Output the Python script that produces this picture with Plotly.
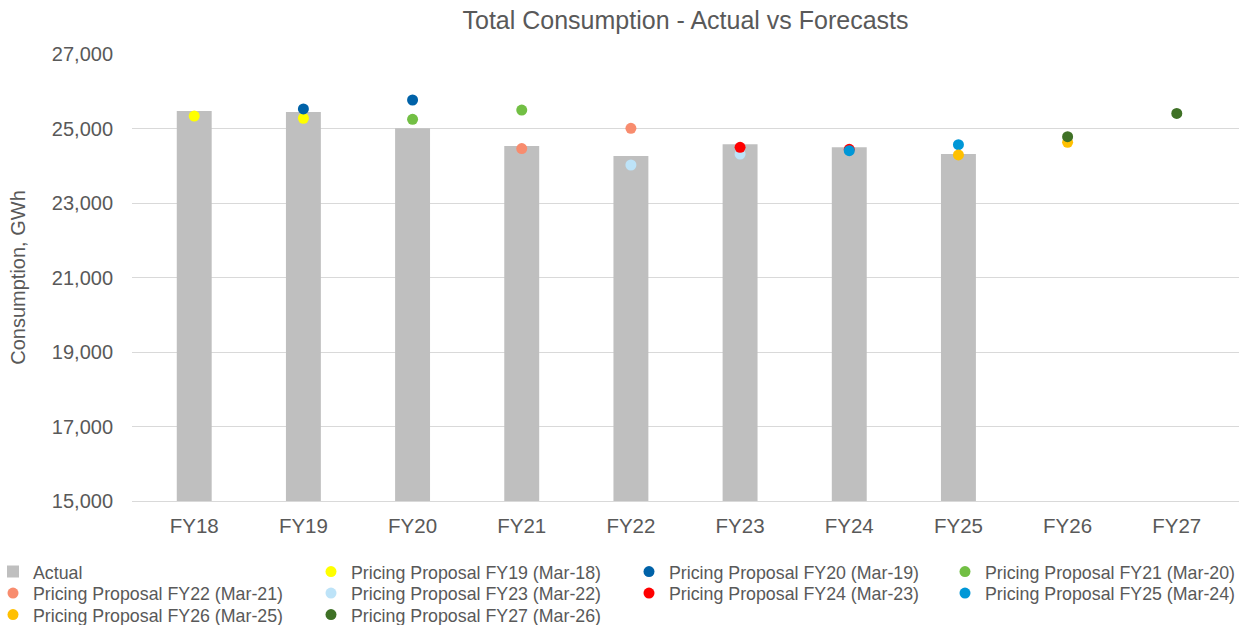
import plotly.graph_objects as go

categories = ["FY18", "FY19", "FY20", "FY21", "FY22", "FY23", "FY24", "FY25", "FY26", "FY27"]
actual = [25470, 25440, 25010, 24530, 24265, 24575, 24495, 24315, None, None]

proposal_names = [
    "Pricing Proposal FY19 (Mar-18)",
    "Pricing Proposal FY20 (Mar-19)",
    "Pricing Proposal FY21 (Mar-20)",
    "Pricing Proposal FY22 (Mar-21)",
    "Pricing Proposal FY23 (Mar-22)",
    "Pricing Proposal FY24 (Mar-23)",
    "Pricing Proposal FY25 (Mar-24)",
    "Pricing Proposal FY26 (Mar-25)",
    "Pricing Proposal FY27 (Mar-26)",
]
proposal_years = [
    ["FY18", "FY19"],
    ["FY19", "FY20"],
    ["FY20", "FY21"],
    ["FY21", "FY22"],
    ["FY22", "FY23"],
    ["FY23", "FY24"],
    ["FY24", "FY25"],
    ["FY25", "FY26"],
    ["FY26", "FY27"],
]
proposal_values = [
    [25335, 25275],
    [25525, 25765],
    [25245, 25495],
    [24460, 25005],
    [24020, 24315],
    [24495, 24440],
    [24405, 24565],
    [24290, 24630],
    [24780, 25405],
]
proposal_colors = ["#FFFF00", "#0062A8", "#72BF44", "#F88C6E", "#BDE3F8",
                   "#FF0000", "#0097D7", "#FFC000", "#3F7126"]

txt = "#595959"
font_family = "Liberation Sans, Arial, sans-serif"

W, H = 1239, 625
ML, MR, MT, MB = 132, 0, 54, 124
plot_w = W - ML - MR
plot_h = H - MT - MB

# legend grid: 4 columns (text start x), 3 rows (centre y)
text_px = [33, 351, 669, 985]
row_px = [572, 593.5, 615]

fig = go.Figure()
legends = {}


def legend_for(i):
    col = i % 4
    row = i // 4
    key = "legend" if i == 0 else f"legend{i + 1}"
    legends[key] = dict(
        x=(text_px[col] - 40 - ML) / plot_w, xanchor="left",
        y=(H - row_px[row] - MB) / plot_h, yanchor="middle",
        orientation="v", font=dict(size=17.8, color=txt, family=font_family),
        itemwidth=30, bgcolor="rgba(0,0,0,0)", borderwidth=0,
    )
    return key


fig.add_trace(go.Bar(x=categories, y=actual, name="Actual",
                     marker=dict(color="#BFBFBF", line=dict(width=0)), width=0.32,
                     legend=legend_for(0)))
for i, (name, xs, ys, c) in enumerate(zip(proposal_names, proposal_years,
                                          proposal_values, proposal_colors)):
    fig.add_trace(go.Scatter(x=xs, y=ys, name=name, mode="markers",
                             marker=dict(color=c, size=11, line=dict(width=0)),
                             legend=legend_for(i + 1)))

fig.update_layout(
    width=W, height=H,
    margin=dict(l=ML, r=MR, t=MT, b=MB, autoexpand=False),
    paper_bgcolor="white", plot_bgcolor="white",
    font=dict(family=font_family, color=txt),
    showlegend=True,
    title=dict(text="Total Consumption - Actual vs Forecasts", x=0.5, xref="paper",
               y=1 - 20 / H, yanchor="middle",
               font=dict(size=25, color=txt)),
    xaxis=dict(categoryorder="array", categoryarray=categories,
               tickfont=dict(size=20.5, color=txt), showgrid=False,
               showline=True, linecolor="#D9D9D9", linewidth=1,
               ticks="", ticklabelstandoff=6),
    yaxis=dict(range=[15000, 27000], tick0=15000, dtick=2000, tickformat=",d",
               tickfont=dict(size=20, color=txt),
               gridcolor="#D9D9D9", gridwidth=1, zeroline=False,
               ticks="", ticklabelstandoff=18,
               title=dict(text="Consumption, GWh", font=dict(size=20, color=txt), standoff=20)),
    **legends,
)
fig.write_html("out.html")
